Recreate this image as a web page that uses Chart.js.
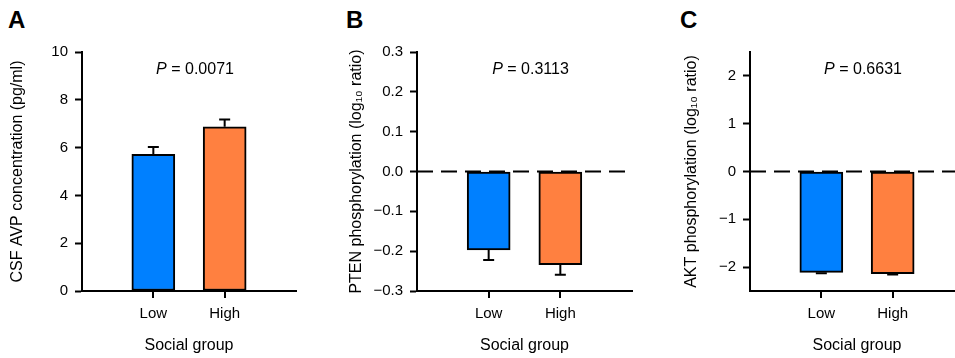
<!DOCTYPE html>
<html>
<head>
<meta charset="utf-8">
<script src="https://cdn.jsdelivr.net/npm/chart.js@4.4.1/dist/chart.umd.min.js"></script>
<style>
  body { margin: 0; width: 955px; height: 358px; overflow: hidden; background: #fff; position: relative; font-family: Arial, "Liberation Sans", sans-serif; }
  .panel { position: absolute; top: 0; height: 358px; }
  .tag { position: absolute; top: 6px; font-weight: bold; font-size: 24px; line-height: 28px; color: #000; }
</style>
</head>
<body>
<div class="tag" style="left:8px">A</div>
<div class="tag" style="left:346px">B</div>
<div class="tag" style="left:680px">C</div>
<div class="panel" style="left:0;width:310px"><canvas id="avp" width="310" height="358"></canvas></div>
<div class="panel" style="left:320px;width:320px"><canvas id="pten" width="320" height="358"></canvas></div>
<div class="panel" style="left:640px;width:325px"><canvas id="akt" width="325" height="358"></canvas></div>
<script>
// categories (empty slots pad the axis on both sides)
const groups = ['', 'Low', 'High', ''];
const barColors = [null, '#0080FF', '#FF8040', null];

// A - CSF AVP
const avpMean = [null, 5.72, 6.87, null];
const avpErr = [null, 0.30, 0.31, null];
const avpTicks = [0, 2, 4, 6, 8, 10];

// B - PTEN
const ptenMean = [null, -0.197, -0.234, null];
const ptenErr = [null, 0.025, 0.025, null];
const ptenTicks = [-0.3, -0.2, -0.1, 0, 0.1, 0.2, 0.3];

// C - AKT
const aktMean = [null, -2.11, -2.135, null];
const aktErr = [null, 0.02, 0.02, null];
const aktTicks = [-2, -1, 0, 1, 2];

const FONT = 'Arial, "Liberation Sans", sans-serif';
const TICK = 7;
const minus = s => s.replace('-', '\u2212');

// error bars, dashed zero line, x tick marks and P value
const extras = {
  id: 'extras',
  beforeDatasetsDraw(chart, args, opts) {
    if (!opts.zeroLine) return;
    const { ctx, chartArea, scales: { y } } = chart;
    const yy = y.getPixelForValue(0);
    ctx.save();
    ctx.setLineDash([16, 8]);
    ctx.lineWidth = 2;
    ctx.strokeStyle = '#000';
    ctx.beginPath();
    ctx.moveTo(chartArea.left, yy);
    ctx.lineTo(chartArea.right, yy);
    ctx.stroke();
    ctx.restore();
  },
  afterDatasetsDraw(chart, args, opts) {
    const { ctx, chartArea, scales: { x, y } } = chart;
    const vals = chart.data.datasets[0].data;
    ctx.save();
    ctx.strokeStyle = '#000';
    ctx.lineWidth = 2;
    opts.err.forEach((e, i) => {
      if (e == null) return;
      const v = vals[i];
      const px = x.getPixelForValue(i);
      const y0 = y.getPixelForValue(v);
      const y1 = y.getPixelForValue(v + Math.sign(v) * e);
      ctx.beginPath();
      ctx.moveTo(px, y0);
      ctx.lineTo(px, y1);
      ctx.moveTo(px - 5.5, y1);
      ctx.lineTo(px + 5.5, y1);
      ctx.stroke();
    });
    // P = ...
    const cx = (x.getPixelForValue(1) + x.getPixelForValue(2)) / 2 + 6;
    const cy = chartArea.top + 18;
    ctx.fillStyle = '#000';
    ctx.textBaseline = 'middle';
    ctx.font = 'italic 16px ' + FONT;
    const wP = ctx.measureText('P').width;
    ctx.font = '16px ' + FONT;
    const rest = ' = ' + opts.p;
    const wR = ctx.measureText(rest).width;
    const x0 = cx - (wP + wR) / 2;
    ctx.font = 'italic 16px ' + FONT;
    ctx.fillText('P', x0, cy);
    ctx.font = '16px ' + FONT;
    ctx.fillText(rest, x0 + wP, cy);
    ctx.restore();
  },
  afterDraw(chart) {
    const { ctx, scales: { x } } = chart;
    ctx.save();
    ctx.strokeStyle = '#000';
    ctx.lineWidth = 2;
    x.ticks.forEach((t, i) => {
      const px = Math.round(x.getPixelForTick(i));
      ctx.beginPath();
      ctx.moveTo(px, x.top);
      ctx.lineTo(px, x.top + TICK);
      ctx.stroke();
    });
    ctx.restore();
  }
};

function makePanel(id, cfg) {
  return new Chart(document.getElementById(id), {
    type: 'bar',
    data: {
      labels: groups,
      datasets: [{
        data: cfg.mean,
        backgroundColor: barColors,
        borderColor: '#000',
        borderWidth: 2,
        borderSkipped: false,
        barThickness: 43
      }]
    },
    options: {
      responsive: false,
      animation: false,
      events: [],
      layout: { padding: { top: 52, right: cfg.padRight, bottom: 0, left: 0 } },
      plugins: {
        legend: { display: false },
        tooltip: { enabled: false },
        extras: { err: cfg.err, p: cfg.p, zeroLine: cfg.zeroLine }
      },
      scales: {
        x: {
          offset: false,
          border: { color: '#000', width: 2 },
          grid: { offset: false, drawOnChartArea: false, tickLength: TICK, tickWidth: 2, tickColor: 'rgba(0,0,0,0)' },
          ticks: { color: '#000', font: { family: FONT, size: 15 }, padding: 7, maxRotation: 0, autoSkip: false },
          // keep only the real groups as ticks
          afterBuildTicks: s => { s.ticks = s.ticks.filter(t => groups[t.value] !== ''); },
          title: { display: true, text: 'Social group', color: '#000', font: { family: FONT, size: 16 }, padding: { top: 4, bottom: 3 } },
          afterFit: s => { s.height = 67; }
        },
        y: {
          min: cfg.min,
          max: cfg.max,
          border: { color: '#000', width: 2 },
          grid: { drawOnChartArea: false, tickLength: TICK, tickWidth: 2, tickColor: '#000' },
          ticks: { color: '#000', font: { family: FONT, size: 15 }, padding: 7, callback: cfg.fmt },
          afterBuildTicks: s => { s.ticks = cfg.ticks.map(v => ({ value: v })); },
          title: { display: true, text: cfg.title, color: '#000', font: { family: FONT, size: 16 }, padding: { top: cfg.titlePad, bottom: 0 } },
          afterFit: s => { s.width = cfg.axisX; }
        }
      }
    },
    plugins: [extras]
  });
}

makePanel('avp', {
  mean: avpMean, err: avpErr, ticks: avpTicks, min: 0, max: 10,
  fmt: v => String(v), p: '0.0071', zeroLine: false,
  title: 'CSF AVP concentration (pg/ml)', axisX: 82, titlePad: 8, padRight: 14
});

makePanel('pten', {
  mean: ptenMean, err: ptenErr, ticks: ptenTicks, min: -0.3, max: 0.3,
  fmt: v => minus(Number(v).toFixed(1)), p: '0.3113', zeroLine: true,
  title: 'PTEN phosphorylation (log\u2081\u2080 ratio)', axisX: 97, titlePad: 27, padRight: 8
});

makePanel('akt', {
  mean: aktMean, err: aktErr, ticks: aktTicks, min: -2.5, max: 2.5,
  fmt: v => minus(String(v)), p: '0.6631', zeroLine: true,
  title: 'AKT phosphorylation (log\u2081\u2080 ratio)', axisX: 110, titlePad: 42, padRight: 1
});
</script>
</body>
</html>
